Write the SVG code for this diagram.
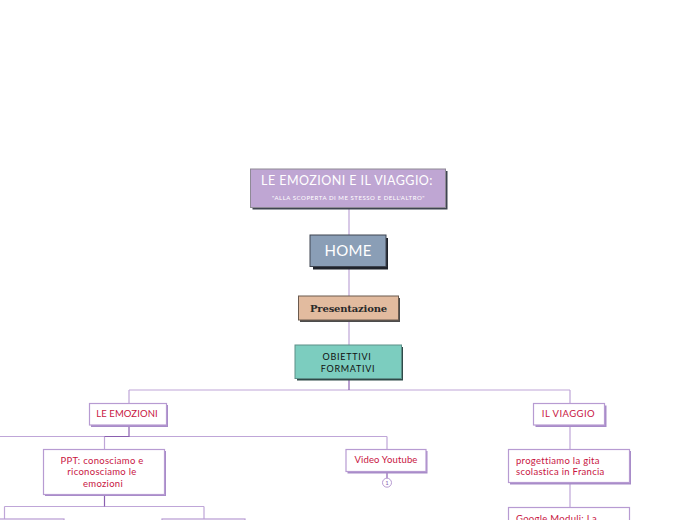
<svg xmlns="http://www.w3.org/2000/svg" width="697" height="520" viewBox="0 0 697 520">
<style>
text{font-family:"Lato","Open Sans",sans-serif;text-anchor:middle}
.c{fill:none;stroke:#bfa6d8;stroke-width:1.200}
.d{fill:none;stroke:#8a5fb0;stroke-width:1.200}
.s{fill:#a78bc8}
.b{fill:#fff;stroke:#b79bd2;stroke-width:1.200}
.t{font-size:9.500px;fill:#c8153f;letter-spacing:.3px}
.l{text-anchor:start}
</style>
<rect width="697" height="520" fill="#fff"/>
<g id="connectors">
<path class="c" d="M349 208V235M349 267V296M349 321V345M129 390H570M129 390V403M570 390V403"/>
<path class="c" d="M0 436.500H387M104.500 436.500V449M387 436.500V449M4.500 506.500H204M4.500 506.500V519M204 506.500V519M570 426V449M570 483V507"/>
<path class="d" d="M129 426V436.500H104.500M104.500 495V506.500"/>
<path class="d" d="M349 379V390"/>
<path class="d" d="M387 472V478"/>
</g>
<g id="n-title">
<rect x="252.500" y="171" width="195" height="38.500" fill="#3e4450"/>
<rect x="250.500" y="169" width="195" height="38.500" fill="#bfa6d3" stroke="#8f8a96"/>
<text x="347" y="185" font-size="12.500" fill="#fff" letter-spacing=".45">LE EMOZIONI E IL VIAGGIO:</text>
<text x="348.500" y="200" font-size="6" fill="#fff" letter-spacing=".55">"ALLA SCOPERTA DI ME STESSO E DELL'ALTRO"</text>
</g>
<g id="n-home">
<rect x="313" y="238" width="75" height="31.500" fill="#20242c"/>
<rect x="310" y="235" width="76" height="31.500" fill="#8a9eb6" stroke="#3e4450"/>
<text x="348" y="256" font-size="15" fill="#fff" letter-spacing=".3">HOME</text>
</g>
<g id="n-presentazione">
<rect x="300" y="298" width="100" height="24" fill="#4c4c4c"/>
<rect x="298.500" y="296" width="100" height="24" fill="#e2bb9f" stroke="#6b5a4e"/>
<text x="348.500" y="312" font-size="10" font-weight="700" fill="#2a2a2a" style="font-family:'DejaVu Serif',serif" letter-spacing="-.18">Presentazione</text>
</g>
<g id="n-obiettivi">
<rect x="297" y="347" width="106" height="33.500" fill="#2f4a48"/>
<rect x="295" y="345" width="106.500" height="33.500" fill="#7ccdbf" stroke="#5c8f88"/>
<text x="347" y="360" font-size="9" fill="#111" letter-spacing=".7">OBIETTIVI</text>
<text x="348" y="372" font-size="9" fill="#111" letter-spacing=".7">FORMATIVI</text>
</g>
<g id="n-emozioni">
<rect x="91" y="405" width="77" height="22" class="s"/>
<rect x="89.500" y="403.500" width="77" height="21.500" class="b"/>
<text x="127" y="417" class="t" letter-spacing="0" style="letter-spacing:.1px">LE EMOZIONI</text>
</g>
<g id="n-viaggio">
<rect x="535.500" y="405.500" width="71" height="21.500" class="s"/>
<rect x="533.500" y="403.500" width="71" height="21.500" class="b"/>
<text x="568.500" y="417" class="t" style="letter-spacing:.45px">IL VIAGGIO</text>
</g>
<g id="n-ppt">
<rect x="45" y="451" width="121" height="45" class="s"/>
<rect x="43.500" y="449.500" width="121" height="45" class="b"/>
<text x="102" y="464" class="t">PPT: conosciamo e</text>
<text x="102" y="475" class="t">riconosciamo le</text>
<text x="103" y="487" class="t">emozioni</text>
</g>
<g id="n-video">
<rect x="347.500" y="451" width="80" height="22.500" class="s"/>
<rect x="346" y="449.500" width="80" height="22" class="b"/>
<text x="386" y="463" class="t" style="letter-spacing:.15px">Video Youtube</text>
</g>
<g id="n-badge">
<circle cx="387" cy="482.700" r="4.500" fill="#fff" stroke="#b79bd2"/>
<text x="387" y="485.200" font-size="6" fill="#8a5fb0">1</text>
</g>
<g id="n-progettiamo">
<rect x="510" y="451" width="121" height="33.500" class="s"/>
<rect x="508.500" y="449.500" width="121" height="33" class="b"/>
<text x="516" y="464" class="t l">progettiamo la gita</text>
<text x="516" y="475" class="t l">scolastica in Francia</text>
</g>
<g id="n-google">
<rect x="508.500" y="507.500" width="121" height="30" class="b"/>
<text x="516" y="522" class="t l">Google Moduli: La</text>
</g>
<g id="n-left-child">
<rect x="-20" y="519" width="84" height="20" class="b"/>
</g>
<g id="n-right-child">
<rect x="162" y="519" width="83" height="20" class="b"/>
</g>
</svg>
